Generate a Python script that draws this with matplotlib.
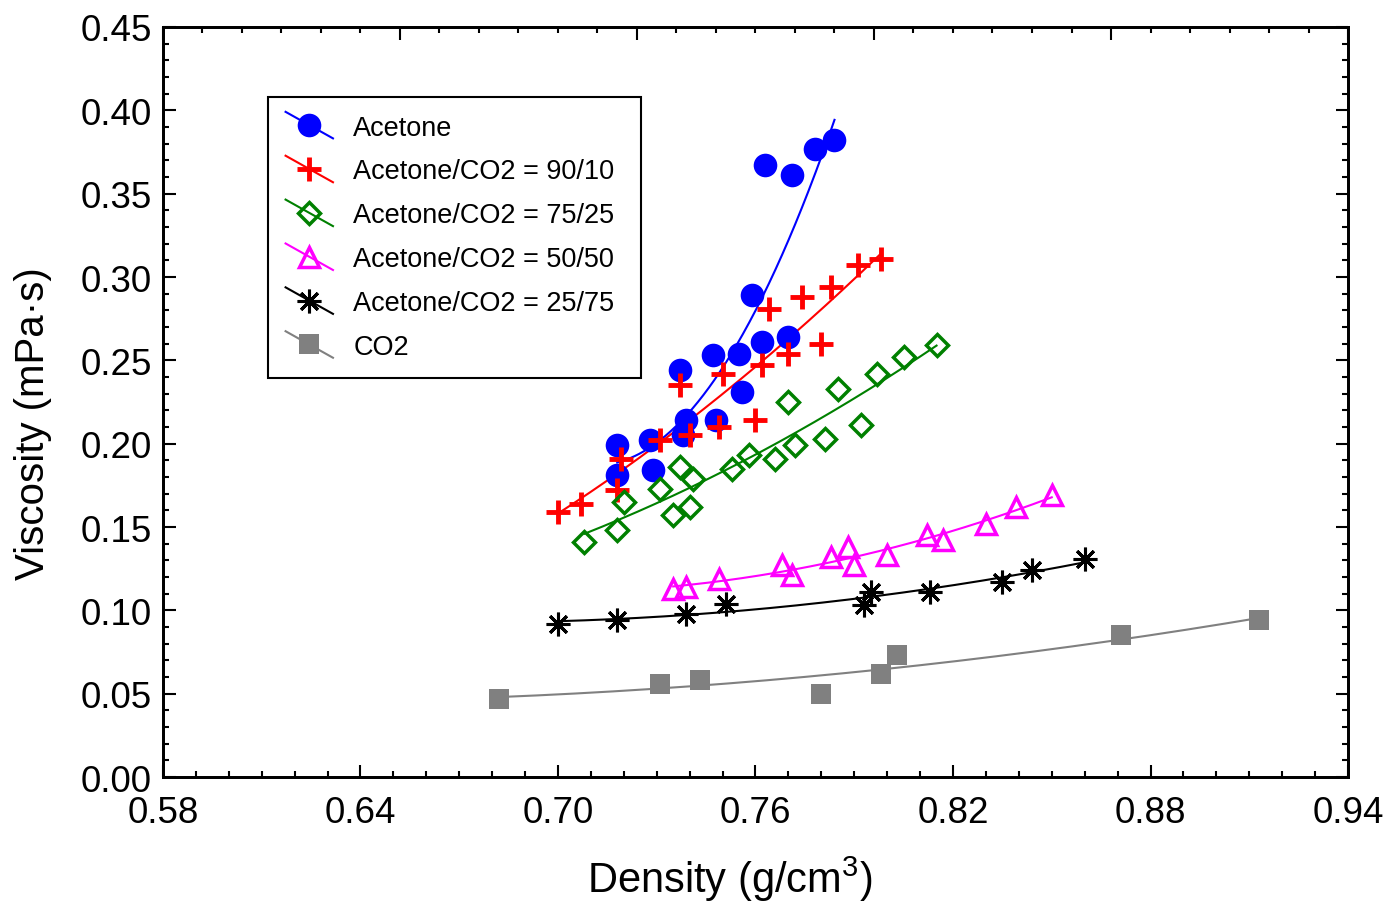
import matplotlib
matplotlib.use('Agg')
import matplotlib.pyplot as plt
import numpy as np
from matplotlib.lines import Line2D
from matplotlib.ticker import MultipleLocator, FormatStrFormatter
from matplotlib.legend_handler import HandlerLine2D

plt.rcParams['font.family'] = ['Liberation Sans', 'DejaVu Sans']
plt.rcParams['mathtext.fontset'] = 'custom'
plt.rcParams['mathtext.rm'] = 'Liberation Sans'
plt.rcParams['mathtext.it'] = 'Liberation Sans:italic'

# ---- data (density g/cm3, viscosity mPa.s) ----
acetone_x = [0.718, 0.718, 0.728, 0.729, 0.737, 0.739, 0.738, 0.747, 0.748,
             0.755, 0.756, 0.759, 0.762, 0.763, 0.770, 0.771, 0.778, 0.784]
acetone_y = [0.199, 0.181, 0.202, 0.184, 0.244, 0.214, 0.205, 0.253, 0.214,
             0.254, 0.231, 0.289, 0.261, 0.367, 0.264, 0.361, 0.377, 0.382]

mix90_x = [0.700, 0.707, 0.718, 0.719, 0.731, 0.740, 0.749, 0.760, 0.737,
           0.750, 0.762, 0.770, 0.780, 0.764, 0.774, 0.783, 0.791, 0.798]
mix90_y = [0.159, 0.164, 0.172, 0.191, 0.202, 0.205, 0.210, 0.214, 0.235,
           0.242, 0.247, 0.254, 0.260, 0.281, 0.288, 0.294, 0.307, 0.311]

mix75_x = [0.708, 0.718, 0.720, 0.731, 0.737, 0.741, 0.735, 0.740, 0.753, 0.758,
           0.766, 0.772, 0.781, 0.792, 0.770, 0.785, 0.797, 0.805, 0.815]
mix75_y = [0.141, 0.148, 0.165, 0.173, 0.186, 0.179, 0.157, 0.162, 0.185, 0.193,
           0.191, 0.199, 0.203, 0.211, 0.225, 0.233, 0.242, 0.252, 0.259]

mix50_x = [0.735, 0.739, 0.749, 0.768, 0.771, 0.783, 0.788, 0.790, 0.800,
           0.812, 0.817, 0.830, 0.839, 0.850]
mix50_y = [0.113, 0.114, 0.119, 0.127, 0.121, 0.132, 0.138, 0.127, 0.133,
           0.145, 0.142, 0.152, 0.162, 0.169]

mix25_x = [0.700, 0.718, 0.739, 0.751, 0.793, 0.795, 0.813, 0.835, 0.844, 0.860]
mix25_y = [0.092, 0.094, 0.098, 0.104, 0.103, 0.111, 0.111, 0.117, 0.124, 0.131]

co2_x = [0.682, 0.731, 0.743, 0.780, 0.798, 0.803, 0.871, 0.913]
co2_y = [0.047, 0.056, 0.058, 0.050, 0.062, 0.073, 0.085, 0.094]

labels = ['Acetone', 'Acetone/CO2 = 90/10', 'Acetone/CO2 = 75/25',
          'Acetone/CO2 = 50/50', 'Acetone/CO2 = 25/75', 'CO2']

x_ticks = [0.58, 0.64, 0.70, 0.76, 0.82, 0.88, 0.94]


class HandlerSlant(HandlerLine2D):
    """Origin style legend symbol: line drawn diagonally through the marker."""
    def create_artists(self, legend, orig_handle, xdescent, ydescent,
                       width, height, fontsize, trans):
        artists = super().create_artists(legend, orig_handle, xdescent, ydescent,
                                         width, height, fontsize, trans)
        line = artists[0]
        y = np.asarray(line.get_ydata(), dtype=float)
        ym = y[len(y) // 2]
        d = height * 0.7
        line.set_ydata(np.linspace(ym + d, ym - d, len(y)))
        return artists


series = [
    (acetone_x, acetone_y, dict(color='#0000FF', marker='o', ms=17, mfc='#0000FF', mew=0)),
    (mix90_x, mix90_y, dict(color='#FF0000', marker='+', ms=17, mew=3.5)),
    (mix75_x, mix75_y, dict(color='#008000', marker='D', ms=11.5, mfc='none', mew=2.5)),
    (mix50_x, mix50_y, dict(color='#FF00FF', marker='^', ms=15, mfc='none', mew=2.5)),
    (mix25_x, mix25_y, dict(color='black', marker=(8, 2, 0), ms=17, mew=2.2)),
    (co2_x, co2_y, dict(color='#808080', marker='s', ms=15, mfc='#808080', mew=0)),
]

fig = plt.figure(figsize=(13.93, 9.12), dpi=100)
ax = fig.add_axes([0.117, 0.1469, 0.8507, 0.8224])

handles = []
for x, y, st in series:
    x = np.array(x)
    y = np.array(y)
    # smooth fitted curve through each data set
    p = np.polyfit(x, y, 2)
    xf = np.linspace(x.min(), x.max(), 200)
    ax.plot(xf, np.polyval(p, xf), '-', color=st['color'], lw=1.5, zorder=2)
    ax.plot(x, y, linestyle='none', zorder=3, **st)
    handles.append(Line2D([], [], linestyle='-', lw=1.5, **st))

ax.set_xlim(0.58, 0.94)
ax.set_ylim(0.0, 0.45)
ax.set_xticks(x_ticks)
ax.xaxis.set_minor_locator(MultipleLocator(0.01))
ax.yaxis.set_major_locator(MultipleLocator(0.05))
ax.yaxis.set_minor_locator(MultipleLocator(0.01))
ax.xaxis.set_major_formatter(FormatStrFormatter('%.2f'))
ax.yaxis.set_major_formatter(FormatStrFormatter('%.2f'))

ax.tick_params(which='both', direction='in', right=True, top=False, width=1.5)
ax.tick_params(which='major', length=9, labelsize=26.5)
ax.tick_params(which='minor', length=4)
ax.tick_params(axis='x', which='major', pad=13)
ax.tick_params(axis='y', which='major', pad=8)
for s in ax.spines.values():
    s.set_linewidth(2)

# top axis carries its own independent tick spacing
ax_top = ax.twiny()
ax_top.set_xlim(0, 30)
ax_top.xaxis.set_major_locator(MultipleLocator(6))
ax_top.xaxis.set_minor_locator(MultipleLocator(1))
ax_top.tick_params(which='both', direction='in', width=1.5, labeltop=False)
ax_top.tick_params(which='major', length=9)
ax_top.tick_params(which='minor', length=4)
for s in ax_top.spines.values():
    s.set_linewidth(2)

ax.set_xlabel('Density (g/cm$^3$)', fontsize=30)
ax.set_ylabel('Viscosity (mPa\u00b7s)', fontsize=29)
ax.xaxis.set_label_coords(0.478, -0.102)
ax.yaxis.set_label_coords(-0.094, 0.473)

leg = ax.legend(handles, labels, loc='upper left',
                bbox_to_anchor=(0.0886, 0.0, 0.3148, 0.9067), mode='expand',
                borderaxespad=0, fontsize=19.5, frameon=True, fancybox=False,
                edgecolor='black', framealpha=1, handlelength=1.75,
                handletextpad=0.75, labelspacing=0.66, borderpad=0.65,
                handler_map={Line2D: HandlerSlant()})
leg.get_frame().set_linewidth(1.5)
leg.set_zorder(5)

fig.savefig('out.png', dpi=100)
